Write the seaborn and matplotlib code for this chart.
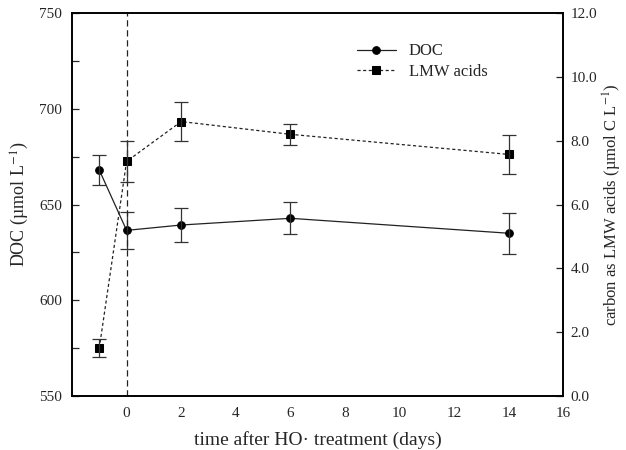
# %% Requirements and constants
import numpy as np
import pandas as pd
import seaborn as sns
import matplotlib
matplotlib.use('Agg')
import matplotlib.pyplot as plt
from matplotlib.ticker import FixedLocator, MultipleLocator, FormatStrFormatter

days = [-1, 0, 2, 6, 14]
doc = [668, 636.5, 639.3, 642.8, 635]
doc_err = [8, 9.5, 9, 8.3, 10.6]
lmw = [1.5, 7.35, 8.6, 8.2, 7.57]
lmw_err = [0.28, 0.63, 0.6, 0.32, 0.6]

# %% Play ground
sns.set_style('white')
plt.rcParams['font.family'] = ['Liberation Serif', 'DejaVu Serif']
plt.rcParams['mathtext.fontset'] = 'stix'

df = pd.DataFrame({'day': days, 'doc': doc, 'lmw': lmw})

fig, ax = plt.subplots(figsize=(6.26, 4.5), dpi=100)
ax2 = ax.twinx()

sns.lineplot(data=df, x='day', y='doc', ax=ax, color='#222222', lw=0.9,
             marker='o', markersize=5.5, markeredgecolor='black',
             markerfacecolor='black', label='DOC', legend=False)
ax.errorbar(days, doc, yerr=doc_err, fmt='none', ecolor='#333333',
            elinewidth=0.9, capsize=5, capthick=0.9)

sns.lineplot(data=df, x='day', y='lmw', ax=ax2, color='#222222', lw=0.9,
             linestyle=(0, (2.5, 2)), marker='s', markersize=5.5,
             markeredgecolor='black', markerfacecolor='black',
             label='LMW acids', legend=False)
ax2.errorbar(days, lmw, yerr=lmw_err, fmt='none', ecolor='#333333',
             elinewidth=0.9, capsize=5, capthick=0.9)

ax.axvline(0, color='#222222', lw=0.9, linestyle=(0, (5, 3)))

ax.set_xlim(-2, 16)
ax.set_ylim(550, 750)
ax2.set_ylim(0, 12)

ax.xaxis.set_major_locator(FixedLocator(range(0, 17, 2)))
ax.xaxis.set_minor_locator(FixedLocator(range(1, 16, 2)))
ax.yaxis.set_major_locator(MultipleLocator(50))
ax.yaxis.set_minor_locator(MultipleLocator(25))
ax2.yaxis.set_major_locator(MultipleLocator(2))
ax2.yaxis.set_major_formatter(FormatStrFormatter('%.1f'))

ax.tick_params(axis='x', which='both', direction='in', length=5, width=0.9,
               labelsize=11, pad=8, top=False)
ax.tick_params(axis='y', which='both', direction='in', length=5, width=0.9,
               labelsize=11, right=False, pad=7)
ax2.tick_params(axis='y', direction='in', length=5, width=0.9, labelsize=11, pad=5)

for a in (ax, ax2):
    for s in a.spines.values():
        s.set_linewidth(1.2)
        s.set_color('black')

ax.set_xlabel('time after HO· treatment (days)', fontsize=14, labelpad=8)
ax.set_ylabel('DOC (µmol L$^{-1}$)', fontsize=13, labelpad=6)
ax2.set_ylabel('carbon as LMW acids (µmol C L$^{-1}$)', fontsize=12, labelpad=3)

h1, l1 = ax.get_legend_handles_labels()
h2, l2 = ax2.get_legend_handles_labels()
ax2.legend(h1 + h2, l1 + l2, loc='upper left', bbox_to_anchor=(0.55, 0.96),
           frameon=False, fontsize=12, handlelength=2.3, labelspacing=0.25)

fig.subplots_adjust(left=0.115, right=0.9, top=0.971, bottom=0.12)
fig.savefig('out.png', dpi=100)
